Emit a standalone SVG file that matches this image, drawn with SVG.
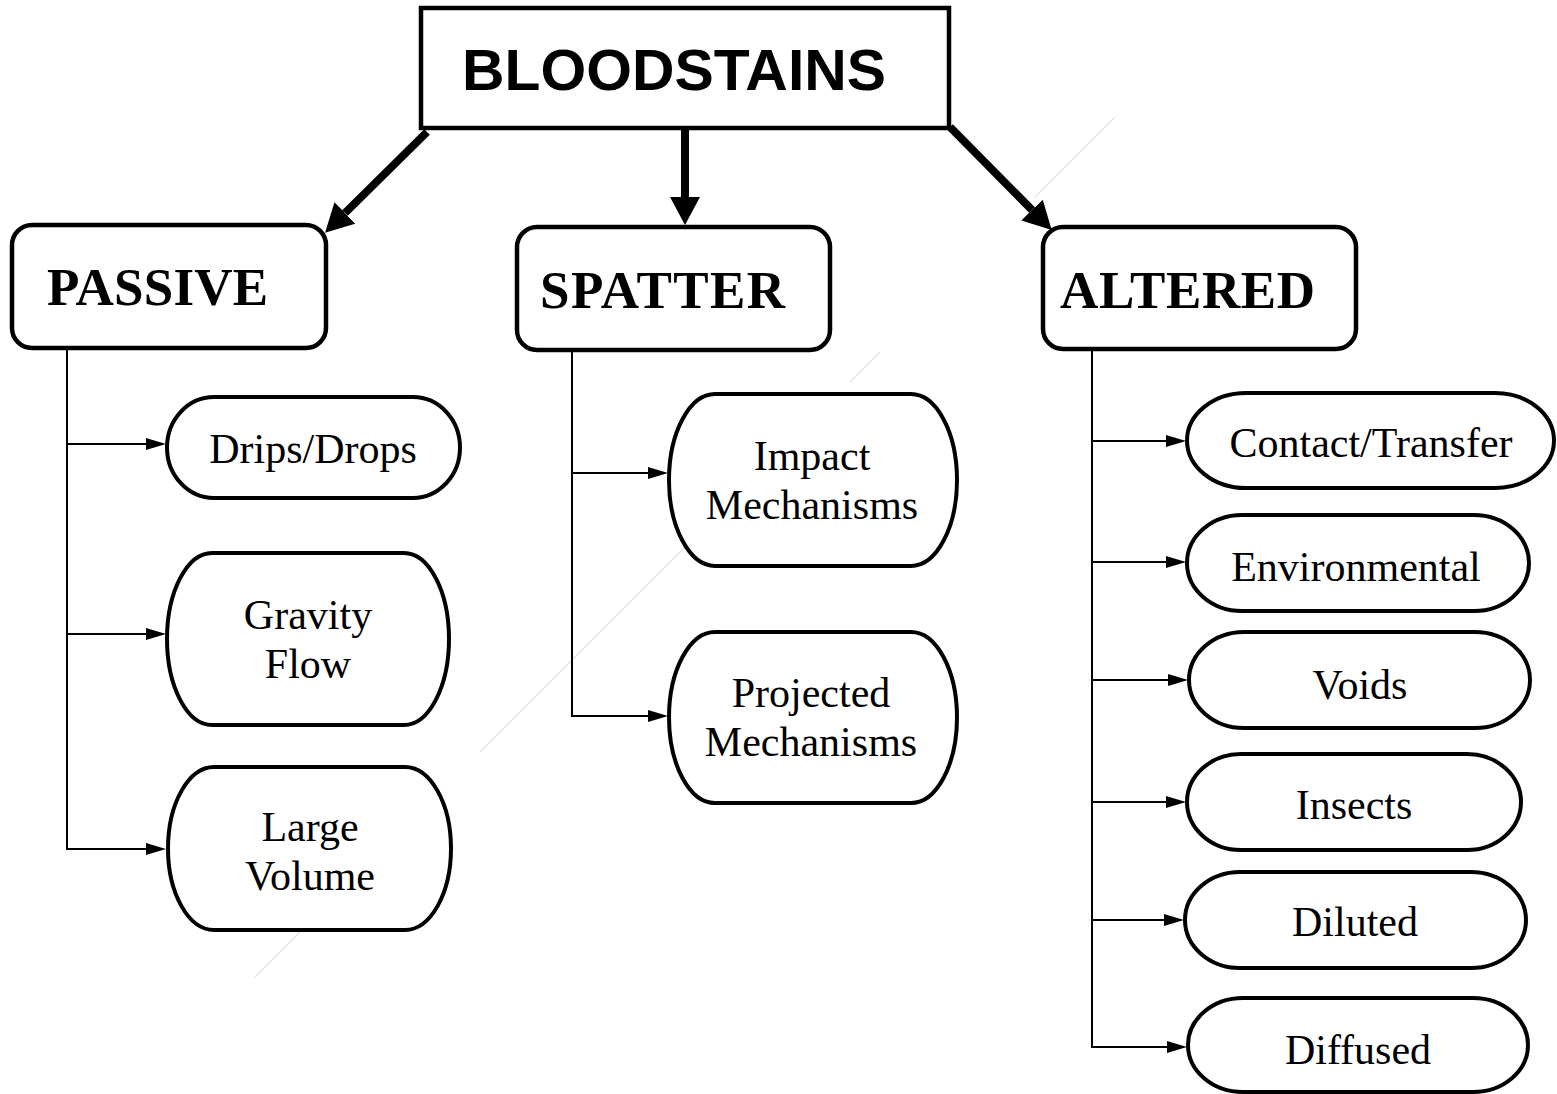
<svg xmlns="http://www.w3.org/2000/svg" width="1557" height="1094" viewBox="0 0 1557 1094">
<style>
.box{fill:#fff;stroke:#000;stroke-width:4.5}
.pill{fill:#fff;stroke:#000;stroke-width:4}
.t{font-family:"Liberation Serif","Times New Roman",serif;font-size:42px;fill:#000;text-anchor:middle}
.cat{font-family:"Liberation Serif","Times New Roman",serif;font-size:53px;font-weight:bold;fill:#000}
.big{stroke:#000;stroke-width:8;fill:none}
.thin{stroke:#000;stroke-width:2;fill:none}
.faint{stroke:#e4e4e4;stroke-width:1.5;fill:none}
</style>
<defs>
<marker id="bigHead" viewBox="0 -15 28 30" refX="0" refY="0" markerWidth="28" markerHeight="30" markerUnits="userSpaceOnUse" orient="auto">
<path d="M0,-15 L28,0 L0,15 z" fill="#000"/>
</marker>
<marker id="smallHead" viewBox="0 -6 20 12" refX="0" refY="0" markerWidth="20" markerHeight="12" markerUnits="userSpaceOnUse" orient="auto">
<path d="M0,-6 L20,0 L0,6 z" fill="#000"/>
</marker>
</defs>
<rect width="1557" height="1094" fill="#fff"/>
<g id="artifact">
<line class="faint" x1="1115" y1="117" x2="1035" y2="197"/>
<line class="faint" x1="880" y1="352" x2="850" y2="382"/>
<line class="faint" x1="690" y1="542" x2="480" y2="752"/>
<line class="faint" x1="300" y1="932" x2="255" y2="977"/>
</g>
<g id="connectors">
<line class="big" x1="427" y1="132" x2="345" y2="213" marker-end="url(#bigHead)"/>
<line class="big" x1="685" y1="128" x2="685" y2="197" marker-end="url(#bigHead)"/>
<line class="big" x1="950" y1="127" x2="1032" y2="210" marker-end="url(#bigHead)"/>
<line class="thin" x1="67" y1="348" x2="67" y2="850"/>
<line class="thin" x1="66" y1="444" x2="146" y2="444" marker-end="url(#smallHead)"/>
<line class="thin" x1="66" y1="634" x2="146" y2="634" marker-end="url(#smallHead)"/>
<line class="thin" x1="66" y1="849" x2="146" y2="849" marker-end="url(#smallHead)"/>
<line class="thin" x1="572" y1="350" x2="572" y2="717"/>
<line class="thin" x1="571" y1="473" x2="648" y2="473" marker-end="url(#smallHead)"/>
<line class="thin" x1="571" y1="716" x2="648" y2="716" marker-end="url(#smallHead)"/>
<line class="thin" x1="1092" y1="350" x2="1092" y2="1048"/>
<line class="thin" x1="1091" y1="441" x2="1166" y2="441" marker-end="url(#smallHead)"/>
<line class="thin" x1="1091" y1="562" x2="1166" y2="562" marker-end="url(#smallHead)"/>
<line class="thin" x1="1091" y1="680" x2="1168" y2="680" marker-end="url(#smallHead)"/>
<line class="thin" x1="1091" y1="802" x2="1166" y2="802" marker-end="url(#smallHead)"/>
<line class="thin" x1="1091" y1="920" x2="1164" y2="920" marker-end="url(#smallHead)"/>
<line class="thin" x1="1091" y1="1047" x2="1167" y2="1047" marker-end="url(#smallHead)"/>
</g>
<g id="bloodstains">
<rect class="box" x="421" y="8" width="528" height="120"/>
<text x="462" y="90" font-family="'Liberation Sans',Arial,sans-serif" font-weight="bold" font-size="57" textLength="424" lengthAdjust="spacingAndGlyphs">BLOODSTAINS</text>
</g>
<g id="passive">
<rect class="box" x="12" y="225" width="314" height="123" rx="20"/>
<text class="cat" x="47" y="305" textLength="221">PASSIVE</text>
</g>
<g id="spatter">
<rect class="box" x="517" y="227" width="313" height="123" rx="20"/>
<text class="cat" x="540" y="308" textLength="245">SPATTER</text>
</g>
<g id="altered">
<rect class="box" x="1043" y="227" width="313" height="122" rx="20"/>
<text class="cat" x="1060" y="308" textLength="255">ALTERED</text>
</g>
<g id="drips">
<rect class="pill" x="167" y="397" width="293" height="101" rx="47" ry="50.5"/>
<text class="t" x="313" y="463">Drips/Drops</text>
</g>
<g id="gravity">
<rect class="pill" x="167" y="553" width="282" height="172" rx="45" ry="86"/>
<text class="t" x="308" y="629">Gravity</text>
<text class="t" x="308" y="678">Flow</text>
</g>
<g id="large">
<rect class="pill" x="168" y="767" width="283" height="163" rx="46" ry="81.5"/>
<text class="t" x="310" y="841">Large</text>
<text class="t" x="310" y="890">Volume</text>
</g>
<g id="impact">
<rect class="pill" x="669" y="394" width="288" height="172" rx="46" ry="86"/>
<text class="t" x="812" y="470">Impact</text>
<text class="t" x="812" y="519">Mechanisms</text>
</g>
<g id="projected">
<rect class="pill" x="669" y="632" width="288" height="171" rx="46" ry="85.5"/>
<text class="t" x="811" y="707">Projected</text>
<text class="t" x="811" y="756">Mechanisms</text>
</g>
<g id="contact">
<rect class="pill" x="1187" y="393" width="367" height="95" rx="59" ry="47.5"/>
<text class="t" x="1371" y="457">Contact/Transfer</text>
</g>
<g id="environmental">
<rect class="pill" x="1187" y="515" width="342" height="96" rx="55" ry="48"/>
<text class="t" x="1356" y="581">Environmental</text>
</g>
<g id="voids">
<rect class="pill" x="1189" y="632" width="341" height="96" rx="55" ry="48"/>
<text class="t" x="1360" y="699">Voids</text>
</g>
<g id="insects">
<rect class="pill" x="1187" y="754" width="334" height="96" rx="54" ry="48"/>
<text class="t" x="1354" y="819">Insects</text>
</g>
<g id="diluted">
<rect class="pill" x="1185" y="872" width="341" height="96" rx="55" ry="48"/>
<text class="t" x="1355" y="936">Diluted</text>
</g>
<g id="diffused">
<rect class="pill" x="1188" y="998" width="340" height="94" rx="55" ry="47"/>
<text class="t" x="1358" y="1064">Diffused</text>
</g>
</svg>
